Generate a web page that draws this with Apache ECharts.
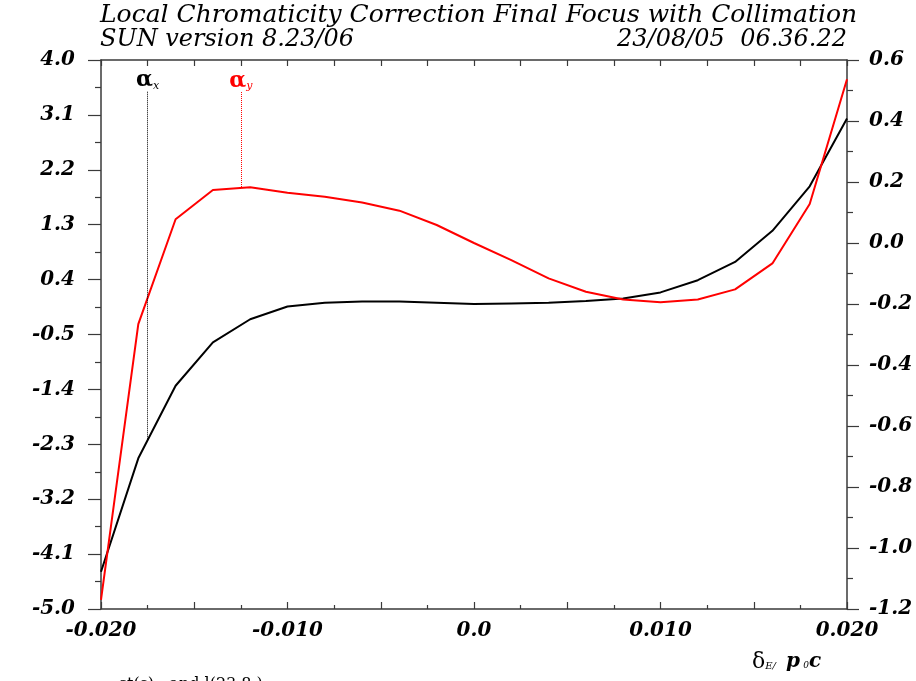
<!DOCTYPE html>
<html>
<head>
<meta charset="utf-8">
<script src="https://cdn.jsdelivr.net/npm/echarts@6/dist/echarts.min.js"></script>
<style>
html,body{margin:0;padding:0;background:#fff;}
#chart{width:916px;height:681px;}
</style>
</head>
<body>
<div id="chart"></div>
<script>
// delta_E / p0c
var deltaValues = [-0.020,-0.018,-0.016,-0.014,-0.012,-0.010,-0.008,-0.006,-0.004,-0.002,0.000,
                   0.002,0.004,0.006,0.008,0.010,0.012,0.014,0.016,0.018,0.020];
// alpha_x (left axis)
var alphaX = [-4.39,-2.53,-1.34,-0.63,-0.25,-0.04,0.02,0.04,0.04,0.02,0.00,
              0.01,0.02,0.05,0.09,0.19,0.39,0.69,1.20,1.93,3.04];
// alpha_y (right axis)
var alphaY = [-1.170,-0.266,0.078,0.174,0.183,0.165,0.152,0.133,0.106,0.059,0.000,
              -0.056,-0.116,-0.160,-0.185,-0.194,-0.185,-0.152,-0.067,0.128,0.537];
// label markers: [x, top value, curve value]
var alphaXMarker = [-0.0175, 3.48, -2.23];
var alphaYMarker = [-0.0125, 0.495, 0.181];

var titleLine1 = 'Local Chromaticity Correction Final Focus with Collimation';
var titleLine2Left = 'SUN version 8.23/06';
var titleLine2Right = '23/08/05  06.36.22';

var serif = '"DejaVu Serif", "Liberation Serif", serif';
var axisColor = '#3a3a3a';

function pairs(xs, ys){ return xs.map(function(x,i){ return [x, ys[i]]; }); }

var chart = echarts.init(document.getElementById('chart'), null, {renderer:'canvas'});
var labelStyle = {fontFamily: serif, fontStyle:'italic', fontWeight:'bold', fontSize:20, color:'#000'};

var option = {
  animation: false,
  backgroundColor: '#fff',
  grid: {left:101, right:69, top:60, bottom:72, containLabel:false},
  xAxis: [{
    type:'value', position:'bottom', min:-0.02, max:0.02, interval:0.005,
    axisLine:{show:true, onZero:false, lineStyle:{color:axisColor, width:1.5}},
    axisTick:{show:true, inside:true, length:7, lineStyle:{color:axisColor, width:1.2}},
    minorTick:{show:true, splitNumber:2, length:4, lineStyle:{color:axisColor, width:1.2}},
    splitLine:{show:false},
    axisLabel: Object.assign({margin:12, formatter:function(v){
      var k = v/0.01;
      if (Math.abs(k - Math.round(k)) > 1e-6) return '';
      if (Math.abs(v) < 1e-9) return '0.0';
      return v.toFixed(3);
    }}, labelStyle)
  },{
    type:'value', position:'top', min:-0.02, max:0.02, interval:0.0025,
    axisLine:{show:true, onZero:false, lineStyle:{color:axisColor, width:1.5}},
    axisTick:{show:true, inside:true, length:6, lineStyle:{color:axisColor, width:1.2}},
    axisLabel:{show:false}, splitLine:{show:false}
  }],
  yAxis: [{
    type:'value', position:'left', min:-5, max:4, interval:0.9,
    axisLine:{show:true, onZero:false, lineStyle:{color:axisColor, width:1.5}},
    axisTick:{show:true, inside:false, length:13, lineStyle:{color:axisColor, width:1.2}},
    minorTick:{show:true, splitNumber:2, length:6, lineStyle:{color:axisColor, width:1.2}},
    splitLine:{show:false},
    axisLabel: Object.assign({margin:26, formatter:function(v){ return (Math.round(v*10)/10).toFixed(1); }}, labelStyle)
  },{
    type:'value', position:'right', min:-1.2, max:0.6, interval:0.2,
    axisLine:{show:true, onZero:false, lineStyle:{color:axisColor, width:1.5}},
    axisTick:{show:true, inside:false, length:12, lineStyle:{color:axisColor, width:1.2}},
    minorTick:{show:true, splitNumber:2, length:6, lineStyle:{color:axisColor, width:1.2}},
    splitLine:{show:false},
    axisLabel: Object.assign({margin:22, formatter:function(v){ return (Math.round(v*10)/10).toFixed(1); }}, labelStyle)
  }],
  series: [{
    name:'alpha_x', type:'line', xAxisIndex:0, yAxisIndex:0,
    data: pairs(deltaValues, alphaX), showSymbol:false, symbol:'none',
    lineStyle:{color:'#000', width:2}, z:3,
    markLine:{
      silent:true, symbol:['none','none'], animation:false,
      lineStyle:{color:'#000', type:'dotted', width:1},
      label:{show:true, position:'start', distance:0, formatter:'{a|α}{s|x}',
        rich:{a:{fontFamily:serif, fontWeight:'bold', fontSize:22, color:'#000'},
              s:{fontFamily:serif, fontStyle:'italic', fontSize:11, color:'#000', verticalAlign:'bottom', padding:[8,0,0,0]}}},
      data:[[{coord:[alphaXMarker[0], alphaXMarker[1]]},{coord:[alphaXMarker[0], alphaXMarker[2]]}]]
    }
  },{
    name:'alpha_y', type:'line', xAxisIndex:0, yAxisIndex:1,
    data: pairs(deltaValues, alphaY), showSymbol:false, symbol:'none',
    lineStyle:{color:'#ff0000', width:2}, z:4,
    markLine:{
      silent:true, symbol:['none','none'], animation:false,
      lineStyle:{color:'#ff0000', type:'dotted', width:1},
      label:{show:true, position:'start', distance:0, formatter:'{a|α}{s|y}',
        rich:{a:{fontFamily:serif, fontWeight:'bold', fontSize:22, color:'#ff0000'},
              s:{fontFamily:serif, fontStyle:'italic', fontSize:11, color:'#ff0000', verticalAlign:'bottom', padding:[8,0,0,0]}}},
      data:[[{coord:[alphaYMarker[0], alphaYMarker[1]]},{coord:[alphaYMarker[0], alphaYMarker[2]]}]]
    }
  }],
  graphic: [
    {type:'text', left:100, top:3, style:{text:titleLine1, font:'italic 25px ' + serif, fill:'#000'}},
    {type:'text', left:100, top:28, style:{text:titleLine2Left, font:'italic 24px ' + serif, fill:'#000'}},
    {type:'text', right:69, top:28, style:{text:titleLine2Right, font:'italic 24px ' + serif, fill:'#000'}},
    {type:'text', left:752, top:651, style:{
      text:'{d|δ}{s|E/}   {i|p} {t|0}{i|c}',
      rich:{d:{fontFamily:serif, fontSize:22, fill:'#000'},
            s:{fontFamily:serif, fontStyle:'italic', fontSize:10, fill:'#000', padding:[8,0,0,0]},
            i:{fontFamily:serif, fontStyle:'italic', fontWeight:'bold', fontSize:20, fill:'#000'},
            t:{fontFamily:serif, fontStyle:'italic', fontSize:9, fill:'#000', padding:[8,0,0,0]}}
    }},
    {type:'text', left:118, top:677, style:{text:'ct(s)   and l(23.8 )', font:'16px ' + serif, fill:'#000'}}
  ]
};
chart.setOption(option);
</script>
</body>
</html>
